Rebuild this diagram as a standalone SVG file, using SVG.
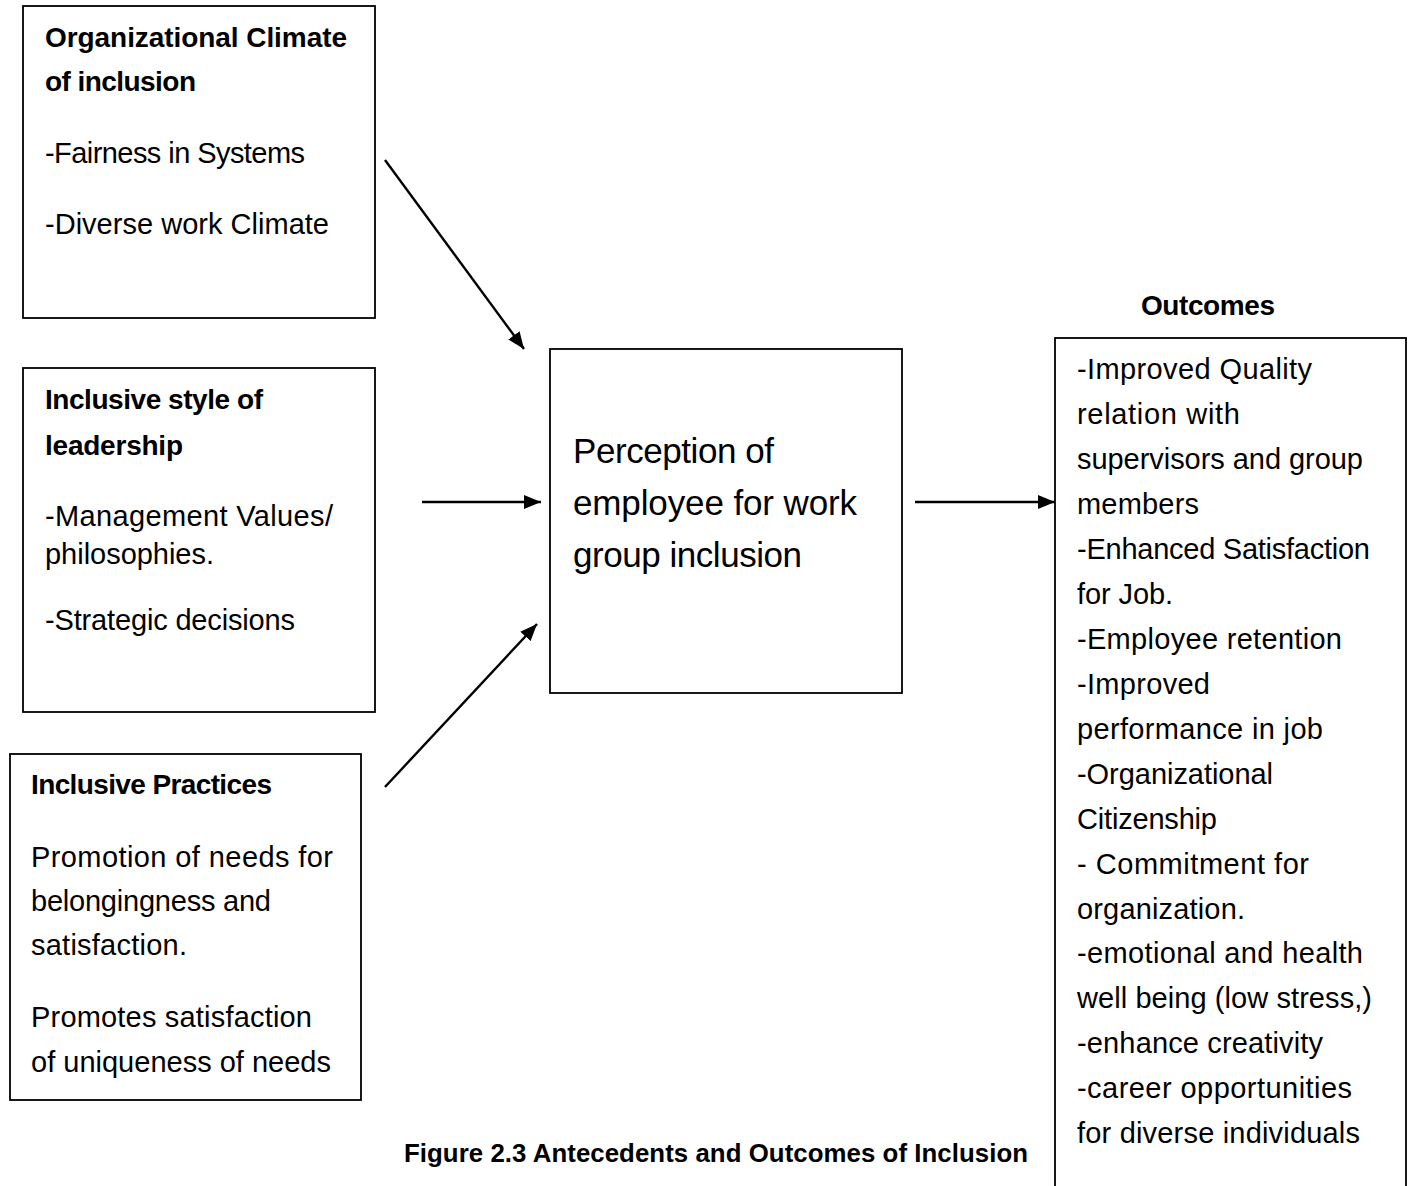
<svg xmlns="http://www.w3.org/2000/svg" width="1413" height="1186" viewBox="0 0 1413 1186">
  <style>
    .box { fill: #ffffff; stroke: #000000; stroke-width: 1.8; }
    .t { font-family: "Liberation Sans", Arial, sans-serif; font-size: 29px; fill: #000000; }
    .b { font-family: "Liberation Sans", Arial, sans-serif; font-size: 28px; font-weight: bold; fill: #000000; }
    .c { font-family: "Liberation Sans", Arial, sans-serif; font-size: 35px; fill: #000000; }
    .cap { font-family: "Liberation Sans", Arial, sans-serif; font-size: 25.8px; font-weight: bold; fill: #000000; }
    .arrow { stroke: #000000; stroke-width: 2.4; fill: none; marker-end: url(#head); }
  </style>
  <defs>
    <marker id="head" markerUnits="userSpaceOnUse" markerWidth="18" markerHeight="14" refX="17" refY="7" orient="auto">
      <path d="M0,0 L17,7 L0,14 Z" fill="#000000"/>
    </marker>
  </defs>
  <rect width="1413" height="1186" fill="#ffffff"/>

  <g id="climate">
    <rect class="box" x="23" y="6" width="352" height="312"/>
    <text class="b" x="45" y="47" textLength="302">Organizational Climate</text>
    <text class="b" x="45" y="91" textLength="151">of inclusion</text>
    <text class="t" x="45" y="163" textLength="260">-Fairness in Systems</text>
    <text class="t" x="45" y="234" textLength="284">-Diverse work Climate</text>
  </g>

  <g id="leadership">
    <rect class="box" x="23" y="368" width="352" height="344"/>
    <text class="b" x="45" y="409" textLength="218">Inclusive style of</text>
    <text class="b" x="45" y="455" textLength="138">leadership</text>
    <text class="t" x="45" y="526" textLength="288">-Management Values/</text>
    <text class="t" x="45" y="564" textLength="169">philosophies.</text>
    <text class="t" x="45" y="630" textLength="250">-Strategic decisions</text>
  </g>

  <g id="practices">
    <rect class="box" x="10" y="754" width="351" height="346"/>
    <text class="b" x="31" y="794" textLength="241">Inclusive Practices</text>
    <text class="t" x="31" y="867" textLength="302">Promotion of needs for</text>
    <text class="t" x="31" y="911" textLength="240">belongingness and</text>
    <text class="t" x="31" y="955" textLength="156">satisfaction.</text>
    <text class="t" x="31" y="1027" textLength="281">Promotes satisfaction</text>
    <text class="t" x="31" y="1072" textLength="300">of uniqueness of needs</text>
  </g>

  <g id="perception">
    <rect class="box" x="550" y="349" width="352" height="344"/>
    <text class="c" x="573" y="463" textLength="201">Perception of</text>
    <text class="c" x="573" y="515" textLength="284">employee for work</text>
    <text class="c" x="573" y="567" textLength="229">group inclusion</text>
  </g>

  <g id="outcomes">
    <text class="b" x="1141" y="315" textLength="134">Outcomes</text>
    <rect class="box" x="1055" y="338" width="351" height="860"/>
    <text class="t" x="1077" y="379" textLength="235">-Improved Quality</text>
    <text class="t" x="1077" y="424" textLength="163">relation with</text>
    <text class="t" x="1077" y="469" textLength="286">supervisors and group</text>
    <text class="t" x="1077" y="514" textLength="122">members</text>
    <text class="t" x="1077" y="559" textLength="293">-Enhanced Satisfaction</text>
    <text class="t" x="1077" y="604" textLength="96">for Job.</text>
    <text class="t" x="1077" y="649" textLength="265">-Employee retention</text>
    <text class="t" x="1077" y="694" textLength="133">-Improved</text>
    <text class="t" x="1077" y="739" textLength="246">performance in job</text>
    <text class="t" x="1077" y="784" textLength="196">-Organizational</text>
    <text class="t" x="1077" y="829" textLength="140">Citizenship</text>
    <text class="t" x="1077" y="874" textLength="232">- Commitment for</text>
    <text class="t" x="1077" y="919" textLength="168">organization.</text>
    <text class="t" x="1077" y="963" textLength="286">-emotional and health</text>
    <text class="t" x="1077" y="1008" textLength="295">well being (low stress,)</text>
    <text class="t" x="1077" y="1053" textLength="246">-enhance creativity</text>
    <text class="t" x="1077" y="1098" textLength="275">-career opportunities</text>
    <text class="t" x="1077" y="1143" textLength="283">for diverse individuals</text>
  </g>

  <g id="caption">
    <text class="cap" x="404" y="1162" textLength="624">Figure 2.3 Antecedents and Outcomes of Inclusion</text>
  </g>

  <g id="connectors">
    <line class="arrow" x1="385" y1="160" x2="524" y2="349"/>
    <line class="arrow" x1="422" y1="502" x2="541" y2="502"/>
    <line class="arrow" x1="385" y1="787" x2="537" y2="624"/>
    <line class="arrow" x1="915" y1="502" x2="1055" y2="502"/>
  </g>
</svg>
